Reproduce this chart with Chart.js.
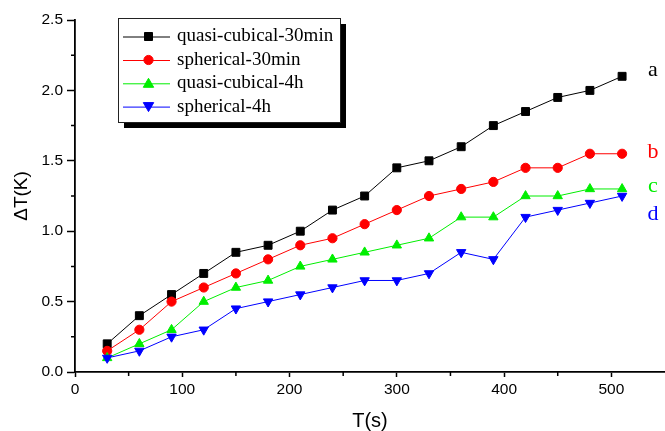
<!DOCTYPE html>
<html>
<head>
<meta charset="utf-8">
<script src="https://cdn.jsdelivr.net/npm/chart.js@4.4.1/dist/chart.umd.min.js"></script>
<style>
  html, body { margin: 0; padding: 0; background: #fff; }
  #wrap { width: 665px; height: 431px; }
</style>
</head>
<body>
<div id="wrap"><canvas id="c" width="665" height="431"></canvas></div>
<script>
// ---- data ----
const times = [30, 60, 90, 120, 150, 180, 210, 240, 270, 300, 330, 360, 390, 420, 450, 480, 510];
const quasiCubical30min = [0.20, 0.40, 0.55, 0.70, 0.85, 0.90, 1.00, 1.15, 1.25, 1.45, 1.50, 1.60, 1.75, 1.85, 1.95, 2.00, 2.10];
const spherical30min    = [0.15, 0.30, 0.50, 0.60, 0.70, 0.80, 0.90, 0.95, 1.05, 1.15, 1.25, 1.30, 1.35, 1.45, 1.45, 1.55, 1.55];
const quasiCubical4h    = [0.10, 0.20, 0.30, 0.50, 0.60, 0.65, 0.75, 0.80, 0.85, 0.90, 0.95, 1.10, 1.10, 1.25, 1.25, 1.30, 1.30];
const spherical4h       = [0.10, 0.15, 0.25, 0.30, 0.45, 0.50, 0.55, 0.60, 0.65, 0.65, 0.70, 0.85, 0.80, 1.10, 1.15, 1.20, 1.25];
const seriesNames = ['quasi-cubical-30min', 'spherical-30min', 'quasi-cubical-4h', 'spherical-4h'];
const curveLetters = ['a', 'b', 'c', 'd'];
const xTickValues = [0, 100, 200, 300, 400, 500];
const xMinorTicks = [50, 150, 250, 350, 450];
const yTickValues = [0, 0.5, 1.0, 1.5, 2.0, 2.5];
const yMinorTicks = [0.25, 0.75, 1.25, 1.75, 2.25];

const colors = ['#000000', '#ff0000', '#00ee00', '#0000ff'];
const shapes = ['square', 'circle', 'triangle', 'invtriangle'];

function toXY(vals) { return times.map((t, i) => ({ x: t, y: vals[i] })); }

function drawMarker(ctx, shape, x, y, color) {
  ctx.save();
  ctx.fillStyle = color;
  ctx.strokeStyle = color;
  ctx.lineWidth = 1;
  ctx.beginPath();
  if (shape === 'square') {
    ctx.rect(x - 4, y - 4, 8, 8);
  } else if (shape === 'circle') {
    ctx.arc(x, y, 4.6, 0, Math.PI * 2);
  } else if (shape === 'triangle') {
    ctx.moveTo(x, y - 5); ctx.lineTo(x + 5.2, y + 4); ctx.lineTo(x - 5.2, y + 4); ctx.closePath();
  } else {
    ctx.moveTo(x, y + 5); ctx.lineTo(x + 5.2, y - 4); ctx.lineTo(x - 5.2, y - 4); ctx.closePath();
  }
  ctx.fill();
  ctx.stroke();
  ctx.restore();
}

const pointStyles = ['rect', 'circle', 'triangle', 'triangle'];
const pointRadii = [5.6, 4.6, 5.4, 5.4];
const pointRot = [0, 0, 0, 180];
const allSeries = [quasiCubical30min, spherical30min, quasiCubical4h, spherical4h];

const datasets = allSeries.map((vals, i) => ({
  label: seriesNames[i],
  data: toXY(vals),
  borderColor: colors[i],
  backgroundColor: colors[i],
  borderWidth: 1,
  pointStyle: pointStyles[i],
  pointRadius: pointRadii[i],
  pointRotation: pointRot[i],
  pointBorderWidth: 1,
  pointBackgroundColor: colors[i],
  pointBorderColor: colors[i],
  tension: 0,
  fill: false,
  clip: false,
  order: 4 - i
}));

const decorPlugin = {
  id: 'decor',
  afterDraw(chart) {
    const ctx = chart.ctx;
    const xs = chart.scales.x, ys = chart.scales.y;
    const area = chart.chartArea;
    // minor ticks
    ctx.save();
    ctx.strokeStyle = '#000';
    ctx.lineWidth = 1.5;
    ctx.beginPath();
    yMinorTicks.forEach(v => {
      const py = ys.getPixelForValue(v);
      ctx.moveTo(area.left - 4, py); ctx.lineTo(area.left, py);
    });
    xMinorTicks.forEach(v => {
      const px = xs.getPixelForValue(v);
      ctx.moveTo(px, area.bottom); ctx.lineTo(px, area.bottom + 4);
    });
    ctx.stroke();
    ctx.restore();

    // legend box
    const bx = 118, by = 18, bw = 222, bh = 104;
    ctx.save();
    ctx.fillStyle = '#000';
    ctx.fillRect(bx + 6, by + 6, bw, bh);
    ctx.fillStyle = '#fff';
    ctx.fillRect(bx, by, bw, bh);
    ctx.strokeStyle = '#222';
    ctx.lineWidth = 1;
    ctx.strokeRect(bx + 0.5, by + 0.5, bw, bh);
    const rowY = [36.5, 60, 83.3, 106.6];
    ctx.font = '19px "Liberation Serif", "Times New Roman", serif';
    ctx.textBaseline = 'middle';
    ctx.textAlign = 'left';
    seriesNames.forEach((name, i) => {
      const y = rowY[i];
      ctx.strokeStyle = colors[i];
      ctx.lineWidth = 1;
      ctx.beginPath();
      ctx.moveTo(123, y + 0.5); ctx.lineTo(170, y + 0.5);
      ctx.stroke();
      drawMarker(ctx, shapes[i], 148.5, y, colors[i]);
      ctx.fillStyle = '#000';
      ctx.fillText(name, 177, y);
    });
    ctx.restore();

    // curve letters
    ctx.save();
    ctx.font = '22px "Liberation Serif", "Times New Roman", serif';
    ctx.textAlign = 'center';
    ctx.textBaseline = 'alphabetic';
    const letterY = [76, 158, 192, 220];
    curveLetters.forEach((l, i) => {
      ctx.fillStyle = colors[i];
      ctx.fillText(l, 653, letterY[i]);
    });
    ctx.restore();
  }
};

new Chart(document.getElementById('c'), {
  type: 'line',
  data: { datasets },
  plugins: [decorPlugin],
  options: {
    responsive: false,
    devicePixelRatio: 1,
    animation: false,
    layout: { autoPadding: false, padding: { left: 0, top: 20, right: 0, bottom: 0 } },
    plugins: { legend: { display: false }, tooltip: { enabled: false } },
    scales: {
      x: {
        type: 'linear',
        min: 0,
        max: 550,
        afterFit(s) { s.height = 59; s.paddingRight = 0; s.paddingLeft = 0; },
        afterBuildTicks(s) { s.ticks = xTickValues.map(v => ({ value: v })); },
        grid: { display: true, drawOnChartArea: false, drawTicks: true, tickLength: 5, tickColor: '#000', tickWidth: 1.5 },
        border: { display: true, color: '#000', width: 1.8 },
        ticks: {
          color: '#000',
          padding: 3,
          maxRotation: 0,
          font: { family: '"Liberation Sans", Arial, sans-serif', size: 15.5 },
          callback: v => String(v)
        },
        title: {
          display: true,
          text: 'T(s)',
          color: '#000',
          font: { family: '"Liberation Sans", Arial, sans-serif', size: 20, lineHeight: 1 },
          padding: { top: 0, bottom: 0 }
        }
      },
      y: {
        type: 'linear',
        min: 0,
        max: 2.5,
        afterFit(s) { s.width = 75; },
        afterBuildTicks(s) { s.ticks = yTickValues.map(v => ({ value: v })); },
        grid: { display: true, drawOnChartArea: false, drawTicks: true, tickLength: 8, tickColor: '#000', tickWidth: 1.5 },
        border: { display: true, color: '#000', width: 1.8 },
        ticks: {
          color: '#000',
          padding: 4,
          font: { family: '"Liberation Sans", Arial, sans-serif', size: 15.5 },
          callback: v => Number(v).toFixed(1)
        },
        title: {
          display: true,
          text: 'ΔT(K)',
          color: '#000',
          font: { family: '"Liberation Sans", Arial, sans-serif', size: 19, lineHeight: 1 },
          padding: { top: 12.5, bottom: 0 }
        }
      }
    }
  }
});
</script>
</body>
</html>
